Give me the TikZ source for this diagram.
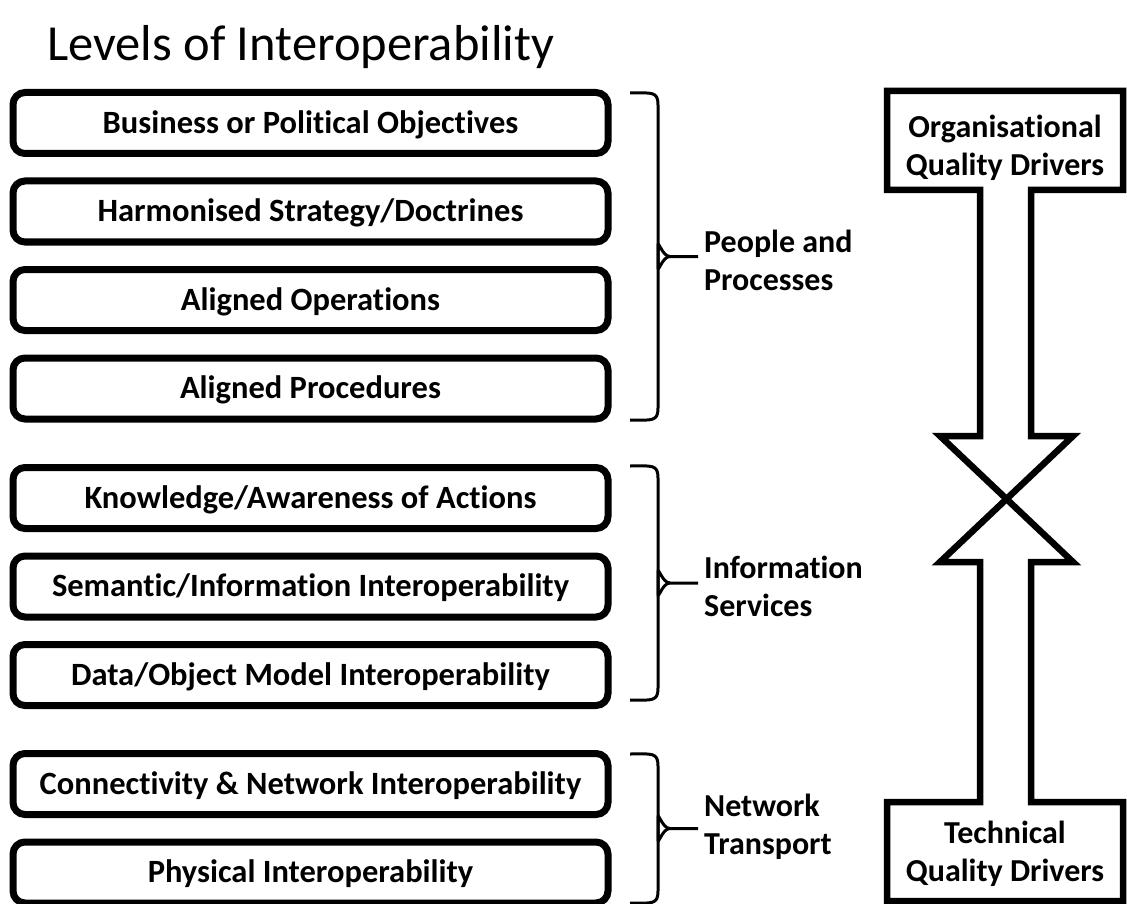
\documentclass[tikz,border=0pt]{standalone}
\usepackage{fontspec}
\setmainfont{Carlito}[Ligatures=NoCommon]
\begin{document}
\begin{tikzpicture}[x=1pt,y=-1pt,
  level/.style={draw, rectangle, rounded corners=12pt, line width=7pt,
    minimum width=595pt, minimum height=61pt, inner sep=0pt,
    text height=20.5pt, text depth=0pt,
    font=\fontsize{32.5}{38}\selectfont\bfseries},
  grouplabel/.style={anchor=west, align=left, inner sep=0pt,
    font=\fontsize{32}{38}\selectfont\bfseries},
  bracket/.style={line width=3pt},
  driver/.style={align=center, inner sep=0pt,
    font=\fontsize{32}{38}\selectfont\bfseries}]
\useasboundingbox (0,0) rectangle (1127,904);

% title
\node[anchor=west, inner sep=0pt, font=\fontsize{50.5}{60}\selectfont] (title) at (47,47) {Levels of Interoperability};

% the nine levels
\node[level] (l1) at (310.5,123) {Business or Political Objectives};
\node[level] (l2) at (310.5,211.5) {Harmonised Strategy/Doctrines};
\node[level] (l3) at (310.5,300) {Aligned Operations};
\node[level] (l4) at (310.5,388.5) {Aligned Procedures};
\node[level] (l5) at (310.5,498) {Knowledge/Awareness of Actions};
\node[level] (l6) at (310.5,586.5) {Semantic/Information Interoperability};
\node[level] (l7) at (310.5,675) {Data/Object Model Interoperability};
\node[level] (l8) at (310.5,784) {Connectivity \& Network Interoperability};
\node[level] (l9) at (310.5,872.5) {Physical Interoperability};

% group brackets: top, bottom, tip
\foreach \n/\t/\b in {a/93/420, b/466/700, c/754/903}{
  \coordinate (\n top) at (630,\t);
  \coordinate (\n bot) at (630,\b);
  \coordinate (\n tip) at (698,{(\t+\b)/2});
  \draw[bracket] (\n top) .. controls ++(22,0) and ++(0,-14) .. ++(28,12)
     -- ([xshift=-40pt,yshift=-10pt]\n tip) .. controls ++(0,8) and ++(-8,0) .. ([xshift=-28pt]\n tip)
     -- (\n tip);
  \draw[bracket] (\n bot) .. controls ++(22,0) and ++(0,14) .. ++(28,-12)
     -- ([xshift=-40pt,yshift=10pt]\n tip) .. controls ++(0,-8) and ++(-8,0) .. ([xshift=-28pt]\n tip);
}

\node[grouplabel] (g1) at (704,260) {People and\\Processes};
\node[grouplabel] (g2) at (704,586) {Information\\Services};
\node[grouplabel] (g3) at (704,827) {Network\\Transport};

% two opposed arrows between the drivers
\draw[line width=6.5pt, miter limit=10]
  (887,91) -- (887,190) -- (980,190) -- (980,436) -- (940,436)
  -- (1073,562) -- (1031,562) -- (1031,802) -- (1123,802) -- (1123,901)
  -- (887,901) -- (887,802) -- (980,802) -- (980,562) -- (940,562)
  -- (1073,436) -- (1031,436) -- (1031,190) -- (1123,190) -- (1123,91)
  -- cycle;

\node[driver] (org) at (1005,148) {Organisational\\Quality Drivers};
\node[driver] (tech) at (1005,854) {Technical\\Quality Drivers};
\end{tikzpicture}
\end{document}
